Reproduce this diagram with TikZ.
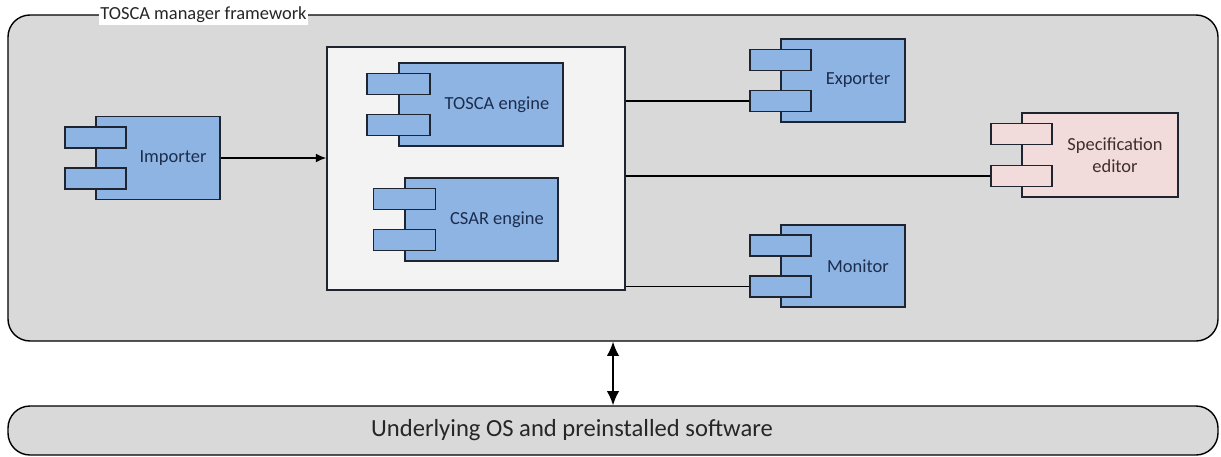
\documentclass[tikz,border=0pt]{standalone}
\usepackage{fontspec}
\setmainfont{Carlito}
\usepackage{xcolor}
\usepackage{tikz}
\usetikzlibrary{arrows.meta}

\definecolor{compblue}{RGB}{142,180,227}
\definecolor{comppink}{RGB}{242,220,219}
\definecolor{framegray}{RGB}{217,217,217}
\definecolor{boxgray}{RGB}{243,243,243}
\definecolor{edgedark}{RGB}{30,36,48}
\definecolor{textnavy}{RGB}{28,45,78}
\definecolor{textbrown}{RGB}{62,46,46}

\tikzset{
	comp/.style = {draw = edgedark, line width = 0.8pt, fill = compblue, minimum width = 2.48cm, minimum height = 1.66cm, inner sep = 0pt},
	tab/.style = {draw = edgedark, line width = 0.8pt, fill = compblue, minimum width = 1.22cm, minimum height = 0.42cm, inner sep = 0pt},
	comptext/.style = {text = textnavy, font = \fontsize{10.5}{12.5}\selectfont, align = center},
	link/.style = {line width = 0.7pt},
}

\begin{document}
\begin{tikzpicture}
			\useasboundingbox (0,0) rectangle (24.42,-9.12);
			
			\node [draw, line width = 0.8pt, rounded corners = 0.44cm, fill = framegray, minimum width = 24.2cm, minimum height = 6.52cm] (frame) at (12.26,-3.56) {};
			\node [fill = white, inner sep = 1pt, text = black!85, font = \fontsize{10.5}{12.5}\selectfont] (frame-l) at (4.07,-0.30) {TOSCA manager framework};
			
			\node [draw, line width = 0.8pt, rounded corners = 0.44cm, fill = framegray, minimum width = 24.2cm, minimum height = 0.98cm] (os) at (12.26,-8.61) {};
			\node [text = black!85, font = \fontsize{14}{16}\selectfont] (os-l) at ([xshift = -0.82cm]os.center) {Underlying OS and preinstalled software};
			
			\node [draw = edgedark, line width = 0.8pt, fill = boxgray, minimum width = 5.96cm, minimum height = 4.86cm] (core) at (9.52,-3.37) {};
			
			\node [comp] (imp) at (3.16,-3.16) {};
			\node [tab] (imp-t1) at ([yshift = 0.41cm]imp.west) {};
			\node [tab] (imp-t2) at ([yshift = -0.41cm]imp.west) {};
			\node [comptext] (imp-l) at ([xshift = 0.3cm]imp.center) {Importer};
			
			\node [comp, minimum width = 3.28cm] (tosca) at (9.62,-2.09) {};
			\node [tab, minimum width = 1.26cm] (tosca-t1) at ([yshift = 0.41cm]tosca.west) {};
			\node [tab, minimum width = 1.26cm] (tosca-t2) at ([yshift = -0.41cm]tosca.west) {};
			\node [comptext] (tosca-l) at ([xshift = 0.32cm]tosca.center) {TOSCA engine};
			
			\node [comp, minimum width = 3.06cm] (csar) at (9.63,-4.39) {};
			\node [tab, minimum width = 1.24cm] (csar-t1) at ([yshift = 0.41cm]csar.west) {};
			\node [tab, minimum width = 1.24cm] (csar-t2) at ([yshift = -0.41cm]csar.west) {};
			\node [comptext] (csar-l) at ([xshift = 0.31cm]csar.center) {CSAR engine};
			
			\node [comp] (exp) at (16.86,-1.61) {};
			\node [tab] (exp-t1) at ([yshift = 0.41cm]exp.west) {};
			\node [tab] (exp-t2) at ([yshift = -0.41cm]exp.west) {};
			\node [comptext] (exp-l) at ([xshift = 0.3cm]exp.center) {Exporter};
			
			\node [comp, fill = comppink, minimum width = 3.12cm, minimum height = 1.68cm] (spec) at (22.00,-3.10) {};
			\node [tab, fill = comppink] (spec-t1) at ([yshift = 0.42cm]spec.west) {};
			\node [tab, fill = comppink] (spec-t2) at ([yshift = -0.42cm]spec.west) {};
			\node [comptext, text = textbrown] (spec-l) at ([xshift = 0.3cm]spec.center) {Specification\\editor};
			
			\node [comp, minimum height = 1.64cm] (mon) at (16.86,-5.32) {};
			\node [tab] (mon-t1) at ([yshift = 0.41cm]mon.west) {};
			\node [tab] (mon-t2) at ([yshift = -0.41cm]mon.west) {};
			\node [comptext] (mon-l) at ([xshift = 0.3cm]mon.center) {Monitor};
			
			\draw [link, -{Latex[length = 6pt, width = 5pt]}] (imp.east) -- (imp.east -| core.west);
			\draw [link] (exp-t2.west -| core.east) -- (exp-t2.west);
			\draw [link] (spec-t2.west -| core.east) -- (spec-t2.west);
			\draw [link] (mon-t2.west -| core.east) -- (mon-t2.west);
			
			\draw [line width = 0.8pt, {Latex[length = 8pt, width = 7pt]}-{Latex[length = 8pt, width = 7pt]}] (frame.south) -- (os.north);
			
		\end{tikzpicture}
\end{document}
